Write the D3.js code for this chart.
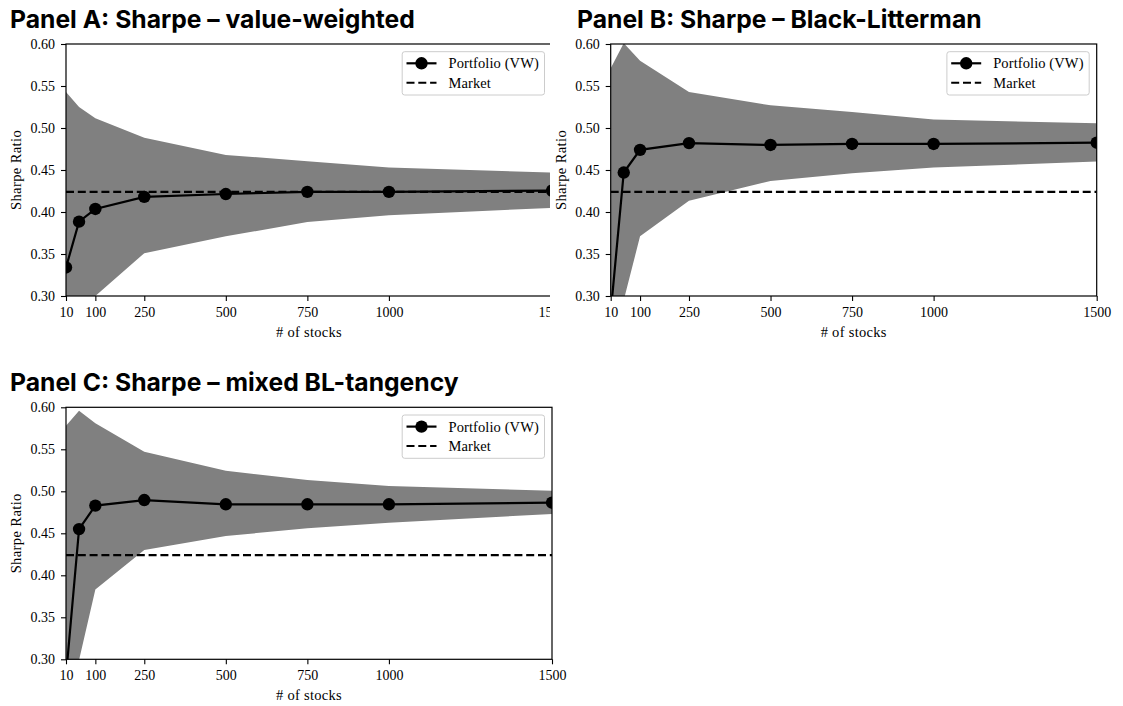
<!DOCTYPE html>
<html><head><meta charset="utf-8">
<script src="https://cdn.jsdelivr.net/npm/d3@7"></script>
<style>body{margin:0;background:#fff}</style>
</head><body><svg id="chart" width="1123" height="706"></svg>
<script>
// ---------------- data ----------------
const nStocks = [10, 50, 100, 250, 500, 750, 1000, 1500];
const xTickValues = [10, 100, 250, 500, 750, 1000, 1500];
const yTickValues = [0.30, 0.35, 0.40, 0.45, 0.50, 0.55, 0.60];
const marketSharpe = 0.424;
const panelTitles = ["Panel A: Sharpe – value-weighted", "Panel B: Sharpe – Black-Litterman", "Panel C: Sharpe – mixed BL-tangency"];
const legendLabels = ["Portfolio (VW)", "Market"];
const xLabel = "# of stocks";
const yLabel = "Sharpe Ratio";

const portfolioA = [0.334, 0.3885, 0.4036, 0.418, 0.4214, 0.424, 0.424, 0.4255];
const upperA     = [0.543, 0.525, 0.5115, 0.4885, 0.468, 0.4605, 0.453, 0.447];
const lowerA     = [0.24, 0.27, 0.300, 0.351, 0.371, 0.388, 0.396, 0.405];

const portfolioB = [0.28, 0.447, 0.474, 0.482, 0.4798, 0.481, 0.481, 0.4825];
const upperB     = [0.571, 0.601, 0.580, 0.543, 0.527, 0.519, 0.510, 0.5056];
const lowerB     = [0.22, 0.295, 0.371, 0.4135, 0.437, 0.446, 0.453, 0.460];

const portfolioC = [0.28, 0.455, 0.483, 0.4896, 0.4845, 0.4845, 0.4845, 0.4864];
const upperC     = [0.578, 0.596, 0.581, 0.547, 0.5245, 0.5135, 0.5063, 0.5008];
const lowerC     = [0.22, 0.299, 0.383, 0.430, 0.4468, 0.456, 0.4627, 0.473];

// ---------------- layout ----------------
const W = 486, H = 252;
const panels = [
  {title: panelTitles[0], port: portfolioA, upper: upperA, lower: lowerA, left: 66, top: 44, titleX: 10, titleY: 28, clipRight: 550},
  {title: panelTitles[1], port: portfolioB, upper: upperB, lower: lowerB, left: 610.7, top: 44, titleX: 577, titleY: 28},
  {title: panelTitles[2], port: portfolioC, upper: upperC, lower: lowerC, left: 66, top: 407.3, titleX: 10, titleY: 391}
];
const serif = "'Liberation Serif', 'Times New Roman', serif";
const fsTick = 14, fsLabel = 14.5;

const svg = d3.select("#chart");
const defs = svg.append("defs");
const titleNodes = [];

panels.forEach((p, i) => {
  const x = d3.scaleLinear().domain([10, 1500]).range([p.left, p.left + W]);
  const y = d3.scaleLinear().domain([0.30, 0.60]).range([p.top + H, p.top]);
  const g = svg.append("g");
  if (p.clipRight) {
    defs.append("clipPath").attr("id", "pc" + i).append("rect")
      .attr("x", 0).attr("y", 0).attr("width", p.clipRight).attr("height", 706);
    g.attr("clip-path", `url(#pc${i})`);
  }
  defs.append("clipPath").attr("id", "plot" + i).append("rect")
    .attr("x", p.left).attr("y", p.top).attr("width", W).attr("height", H);

  const data = nStocks.map((n, j) => ({n, v: p.port[j], u: p.upper[j], l: p.lower[j]}));
  const inner = g.append("g").attr("clip-path", `url(#plot${i})`);
  inner.append("path").datum(data)
    .attr("d", d3.area().x(d => x(d.n)).y0(d => y(d.l)).y1(d => y(d.u)))
    .attr("fill", "#808080");
  inner.append("line")
    .attr("x1", x(10)).attr("x2", x(1500))
    .attr("y1", y(marketSharpe)).attr("y2", y(marketSharpe))
    .attr("stroke", "#000").attr("stroke-width", 2.1).attr("stroke-dasharray", "8,3.8");
  inner.append("path").datum(data)
    .attr("d", d3.line().x(d => x(d.n)).y(d => y(d.v)))
    .attr("fill", "none").attr("stroke", "#000").attr("stroke-width", 2.2);
  inner.selectAll("circle").data(data).join("circle")
    .attr("cx", d => x(d.n)).attr("cy", d => y(d.v)).attr("r", 6.2).attr("fill", "#000");

  // axes
  const xAxis = d3.axisBottom(x).tickValues(xTickValues).tickFormat(d3.format("d"))
    .tickSizeOuter(0).tickSize(5).tickPadding(6);
  const yAxis = d3.axisLeft(y).tickValues(yTickValues).tickFormat(d3.format(".2f"))
    .tickSizeOuter(0).tickSize(5).tickPadding(6);
  const gx = g.append("g").attr("transform", `translate(0,${p.top + H})`).call(xAxis);
  const gy = g.append("g").attr("transform", `translate(${p.left},0)`).call(yAxis);
  [gx, gy].forEach(a => {
    a.select(".domain").remove();
    a.selectAll("line").attr("stroke", "#000").attr("stroke-width", 1.1);
    a.selectAll("text").attr("font-family", serif).attr("font-size", fsTick).attr("fill", "#000");
  });

  // spines
  g.append("rect").attr("x", p.left).attr("y", p.top).attr("width", W).attr("height", H)
    .attr("fill", "none").attr("stroke", "#000").attr("stroke-width", 1.2);

  // axis labels
  g.append("text").attr("x", p.left + W / 2).attr("y", p.top + H + 41)
    .attr("text-anchor", "middle").attr("font-family", serif).attr("font-size", fsLabel)
    .attr("letter-spacing", 0.3).text(xLabel);
  g.append("text").attr("transform", `translate(${p.left - 45},${p.top + H / 2}) rotate(-90)`)
    .attr("text-anchor", "middle").attr("font-family", serif).attr("font-size", fsLabel)
    .attr("letter-spacing", 0.4).text(yLabel);

  // legend
  const lw = 142.3, lh = 43.3;
  const lx = p.left + W - 7.5 - lw, ly = p.top + 7.7;
  const lg = g.append("g");
  lg.append("rect").attr("x", lx).attr("y", ly).attr("width", lw).attr("height", lh)
    .attr("rx", 2.5).attr("fill", "#fff").attr("fill-opacity", 0.85)
    .attr("stroke", "#cccccc").attr("stroke-width", 1);
  const rows = [ly + 11.6, ly + 31];
  lg.append("line").attr("x1", lx + 4.3).attr("x2", lx + 34.3).attr("y1", rows[0]).attr("y2", rows[0])
    .attr("stroke", "#000").attr("stroke-width", 2.2);
  lg.append("circle").attr("cx", lx + 19.3).attr("cy", rows[0]).attr("r", 6.2).attr("fill", "#000");
  lg.append("line").attr("x1", lx + 4.3).attr("x2", lx + 34.3).attr("y1", rows[1]).attr("y2", rows[1])
    .attr("stroke", "#000").attr("stroke-width", 2.1).attr("stroke-dasharray", "8,3.8");
  legendLabels.forEach((t, k) => {
    lg.append("text").attr("x", lx + 46.3).attr("y", rows[k]).attr("dy", "0.35em")
      .attr("font-family", serif).attr("font-size", fsLabel).attr("letter-spacing", 0.1).text(t);
  });

  // title
  const tn = svg.append("text").attr("x", p.titleX).attr("y", p.titleY)
    .attr("font-family", "Inter, 'Open Sans', sans-serif").attr("font-weight", 700)
    .attr("font-size", 24).attr("fill", "#000").text(p.title);
  titleNodes.push(tn);
});

// fit title size to reference width of panel A title (~405px)
const measured = titleNodes[0].node().getComputedTextLength();
const tSize = 24 * 405 / measured;
titleNodes.forEach(t => t.attr("font-size", tSize));
</script>
</body></html>
